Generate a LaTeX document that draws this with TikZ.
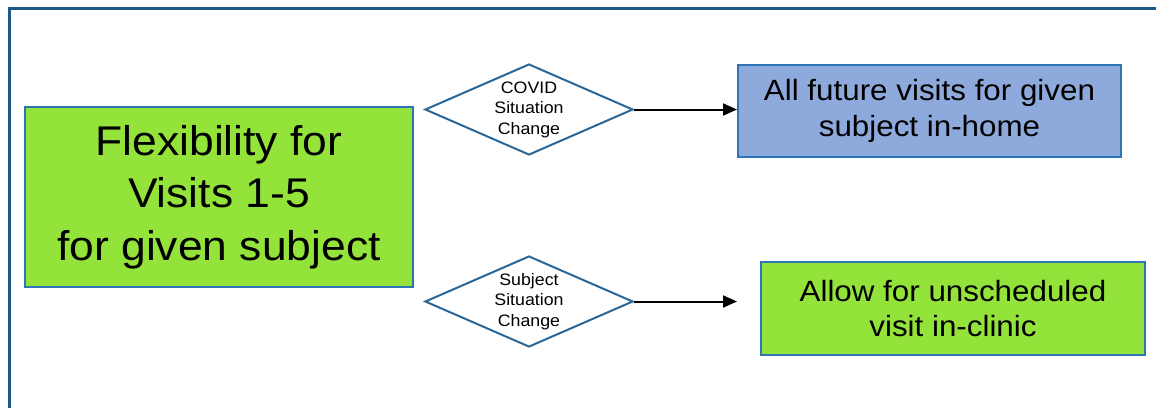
\documentclass[tikz,border=0pt]{standalone}
\usepackage{fontspec}
\setmainfont{Liberation Sans}[FakeStretch=1.07]
\usetikzlibrary{shapes.geometric,arrows.meta}
\definecolor{frameblue}{HTML}{1D5A88}
\definecolor{boxborder}{HTML}{2E75B6}
\definecolor{boxgreen}{HTML}{93E33A}
\definecolor{boxblue}{HTML}{8EAADC}
\definecolor{diaborder}{HTML}{2A6799}
\tikzset{
  box/.style={draw=boxborder, line width=2pt, inner sep=0pt, align=center, text=black},
  decision/.style={diamond, aspect=2.286, draw=diaborder, line width=2pt, fill=white,
    inner sep=0pt, minimum width=208pt, minimum height=91pt, align=center,
    font=\fontsize{16.6}{20.5}\selectfont},
  flow/.style={line width=2pt, -{Triangle[length=14pt,width=12pt]}}
}
\begin{document}
\begin{tikzpicture}[x=1pt,y=-1pt]
\useasboundingbox (0,0) rectangle (1156,407);
\clip (0,0) rectangle (1156,407);
\fill[white] (0,0) rectangle (1156,407);
\draw[frameblue, line width=3pt] (9,430) -- (9,8) -- (1180,8);

\node[box, fill=boxgreen, minimum width=388pt, minimum height=180pt,
      font=\fontsize{41.5}{52.5}\selectfont] (flex) at (219,197)
      {Flexibility for\\Visits 1-5\\for given subject};

\node[decision] (covid) at (529,109.5) {COVID\\Situation\\Change};
\node[decision] (subj) at (529,301.5) {Subject\\Situation\\Change};

\node[box, fill=boxblue, minimum width=383pt, minimum height=92pt,
      font=\fontsize{29.3}{35.6}\selectfont] (home) at (929.5,111)
      {All future visits for given\\subject in-home};

\node[box, fill=boxgreen, minimum width=384pt, minimum height=93pt,
      font=\fontsize{29.3}{35.6}\selectfont] (clinic) at (953,308.5)
      {Allow for unscheduled\\visit in-clinic};

\coordinate (e2) at (737,300);
\draw[flow] (covid.east) -- (covid.east -| home.west);
\draw[flow] (subj.east) -- (subj.east -| e2);
\end{tikzpicture}
\end{document}
